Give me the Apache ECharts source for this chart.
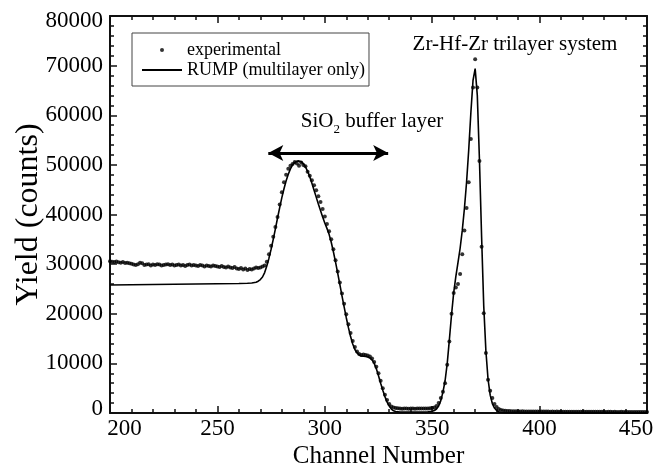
<!DOCTYPE html>
<html>
<head>
<meta charset="utf-8">
<script src="https://cdn.jsdelivr.net/npm/echarts@6/dist/echarts.min.js"></script>
<style>
html,body{margin:0;padding:0;background:#fff;}
#chart{width:663px;height:466px;}
</style>
</head>
<body>
<div id="chart"></div>
<script>
// ---- data ----
const expStartChannel = 200;
const expYield = [
  30600, 30500, 30450, 30550, 30400, 30300, 30450, 30250, 30300, 30200,
  30100, 29900, 29800, 30000, 30300, 30200, 29800, 29900, 30000, 29700,
  29900, 29800, 30000, 29900, 29700, 29800, 29900, 30000, 29800, 29900,
  29700, 29800, 29900, 29700, 29800, 29600, 29800, 29900, 29700, 29800,
  29700, 29600, 29800, 29700, 29500, 29700, 29600, 29500, 29700, 29600,
  29500, 29400, 29600, 29400, 29300, 29500, 29300, 29200, 29400, 29100,
  29000, 29200, 28900, 29100, 28800, 29000, 28900, 29100, 29300, 29200,
  29300, 29500, 29700, 30500, 32000, 33700, 35500, 37500, 39500, 42000,
  44500, 46500, 48000, 49200, 49800, 50200, 50600, 50300, 49800, 50500,
  50000, 49700, 48600, 47800, 46900, 45900, 44900, 43700, 42500, 41100,
  39600, 38100, 36600, 35000, 33000, 30800, 28500, 26300, 24100, 22000,
  19900, 17900, 16100, 14500, 13300, 12400, 11900, 11700, 11800, 11700,
  11600, 11400, 11000, 10300, 9300, 8000, 6500, 5000, 3700, 2600,
  1800, 1300, 1100, 1000, 950, 900, 880, 920, 900, 870,
  900, 910, 880, 900, 890, 900, 920, 900, 930, 950,
  1000, 1100, 1400, 2000, 3000, 4300, 6000, 9700, 14400, 20000,
  24200, 25300, 26000, 28000, 32000, 36800, 41300, 46500, 55200, 65600,
  71300, 65600, 50800, 33500, 20100, 12100, 6700, 4500, 3000, 1800,
  1200, 800, 600, 500, 450, 400, 380, 360, 350, 340,
  330, 320, 330, 310, 320, 300, 310, 300, 290, 300,
  290, 280, 300, 280, 290, 270, 280, 270, 280, 260,
  270, 260, 270, 250, 260, 260, 250, 260, 240, 250,
  250, 240, 250, 240, 230, 240, 240, 230, 240, 230,
  230, 220, 230, 230, 220, 230, 220, 220, 230, 210,
  220, 220, 210, 220, 210, 210, 220, 200, 210, 210,
  200
];
const rumpChannels = [
  200, 210, 220, 230, 240, 250, 260, 264, 266, 268,
  269, 270, 271, 272, 273, 274, 275, 276, 277, 278,
  279, 280, 281, 282, 283, 284, 285, 286, 287, 288,
  289, 290, 291, 292, 293, 294, 295, 296, 297, 298,
  299, 300, 301, 302, 303, 304, 305, 306, 307, 308,
  309, 310, 311, 312, 313, 314, 315, 316, 317, 318,
  319, 320, 321, 322, 323, 324, 325, 326, 327, 328,
  329, 330, 331, 332, 333, 334, 335, 340, 345, 348,
  350, 351, 352, 353, 354, 355, 356, 357, 358, 359,
  360, 361, 362, 363, 364, 365, 366, 367, 368, 369,
  370, 371, 372, 373, 374, 375, 376, 377, 378, 379,
  380, 381, 382, 384, 390, 400, 450
];
const rumpYield = [
  25800, 25850, 25900, 25950, 26000, 26050, 26100, 26150, 26200, 26350,
  26550, 26900, 27400, 28300, 29600, 31200, 33000, 35000, 37100, 39300,
  41400, 43400, 45200, 46800, 48100, 49200, 50000, 50500, 50750, 50800,
  50650, 50250, 49600, 48700, 47600, 46300, 44900, 43500, 42100, 40800,
  39500, 38300, 37200, 36000, 34400, 32500, 30400, 28200, 25900, 23600,
  21400, 19200, 17200, 15400, 13900, 12800, 12100, 11700, 11500, 11450,
  11400, 11300, 11100, 10700, 10000, 8900, 7500, 6000, 4600, 3300,
  2200, 1400, 800, 450, 300, 250, 200, 200, 200, 250,
  350, 500, 800, 1400, 2500, 4200, 6500, 10000, 14800, 19800,
  24200, 27500, 30300, 33200, 36800, 41200, 46500, 53000, 60500, 67000,
  69400, 64000, 51000, 35500, 21500, 12500, 6800, 3600, 1900, 1000,
  500, 250, 100, 0, 0, 0, 0
];
const arrowChannels = [273.7, 329.5];
const arrowYield = 52400;
const seriesNames = ['experimental', 'RUMP (multilayer only)'];
const annotationTexts = ['Zr-Hf-Zr trilayer system', 'SiO', '2', ' buffer layer'];

// ---- build ----
const FONT = 'Liberation Serif';
const expData = expYield.map((v, i) => [expStartChannel + i, v]);
const rumpData = rumpChannels.map((c, i) => [c, rumpYield[i]]);

const tickStyle = { show: true, inside: true, length: 7, lineStyle: { color: '#111', width: 1.5 } };
const minorStyle = { show: true, splitNumber: 5, length: 4, lineStyle: { color: '#111', width: 1.5 } };
const lineStyle = { show: true, onZero: false, lineStyle: { color: '#111', width: 2 } };
const lblBase = { fontFamily: FONT, fontSize: 23, color: '#000' };

function xAxisBase(pos, showLabel) {
  return {
    type: 'value', position: pos, min: 200, max: 450, interval: 50,
    axisLine: lineStyle, axisTick: tickStyle, minorTick: minorStyle,
    splitLine: { show: false }, minorSplitLine: { show: false },
    axisLabel: showLabel ? {
      margin: 4, ...lblBase,
      formatter: v => v === 200 ? '{l|200}' : (v === 450 ? '{r|450}' : String(v)),
      rich: { l: { ...lblBase, padding: [0, 0, 0, 29] }, r: { ...lblBase, padding: [0, 22, 0, 0] } }
    } : { show: false }
  };
}
function yAxisBase(pos, showLabel) {
  return {
    type: 'value', position: pos, min: 0, max: 80000, interval: 10000,
    axisLine: lineStyle, axisTick: tickStyle, minorTick: minorStyle,
    splitLine: { show: false }, minorSplitLine: { show: false },
    axisLabel: showLabel ? {
      margin: 7, ...lblBase,
      formatter: v => v === 0 ? '{lo|0}' : (v === 80000 ? '{hi|80000}' : String(v)),
      rich: { lo: { ...lblBase, padding: [0, 0, 9, 0] }, hi: { ...lblBase, padding: [9, 0, 0, 0] } }
    } : { show: false }
  };
}

const xMain = xAxisBase('bottom', true);
xMain.name = 'Channel Number';
xMain.nameLocation = 'middle';
xMain.nameGap = 31;
xMain.nameMoveOverlap = false;
xMain.nameTextStyle = { fontFamily: FONT, fontSize: 25, color: '#000' };
const yMain = yAxisBase('left', true);
yMain.name = 'Yield (counts)';
yMain.nameLocation = 'middle';
yMain.nameGap = 65;
yMain.nameMoveOverlap = false;
yMain.nameTextStyle = { fontFamily: FONT, fontSize: 32, color: '#000' };

const chart = echarts.init(document.getElementById('chart'), null, { renderer: 'canvas' });
chart.setOption({
  animation: false,
  backgroundColor: '#fff',
  grid: { left: 110, right: 16, top: 16, bottom: 53, containLabel: false, outerBoundsMode: 'none' },
  xAxis: [xMain, xAxisBase('top', false)],
  yAxis: [yMain, yAxisBase('right', false)],
  legend: {
    left: 132, top: 33, orient: 'vertical',
    padding: [7, 4, 6, 9], itemGap: 0, itemWidth: 40, itemHeight: 4,
    borderColor: '#444', borderWidth: 1,
    textStyle: { fontFamily: FONT, fontSize: 18, color: '#000', lineHeight: 20 },
    data: [
      { name: seriesNames[0], icon: 'circle' },
      { name: seriesNames[1], itemStyle: { color: 'rgba(0,0,0,0)', borderWidth: 0 } }
    ]
  },
  series: [
    {
      name: seriesNames[0], type: 'scatter', data: expData,
      symbol: 'circle', symbolSize: 4, itemStyle: { color: '#000' },
      xAxisIndex: 0, yAxisIndex: 0, z: 3
    },
    {
      name: seriesNames[1], type: 'line', data: rumpData,
      symbol: 'none', showSymbol: false, smooth: false,
      lineStyle: { color: '#000', width: 1.6 }, itemStyle: { color: '#000' },
      xAxisIndex: 0, yAxisIndex: 0, z: 4,
      markLine: {
        silent: true, symbol: ['arrow', 'arrow'], symbolSize: [12, 15],
        lineStyle: { color: '#000', width: 3, type: 'solid' },
        label: { show: false },
        data: [[{ coord: [arrowChannels[0], arrowYield] }, { coord: [arrowChannels[1], arrowYield] }]]
      }
    }
  ],
  graphic: [
    {
      type: 'text', x: 515, y: 44,
      style: { text: annotationTexts[0], fontFamily: FONT, fontSize: 21, fill: '#000', align: 'center', verticalAlign: 'middle' }
    },
    {
      type: 'text', x: 372, y: 121,
      style: {
        text: '{a|' + annotationTexts[1] + '}{s|' + annotationTexts[2] + '}{a|' + annotationTexts[3] + '}',
        align: 'center', verticalAlign: 'middle',
        rich: {
          a: { fontFamily: FONT, fontSize: 21, fill: '#000', lineHeight: 30 },
          s: { fontFamily: FONT, fontSize: 13, fill: '#000', lineHeight: 13, verticalAlign: 'bottom' }
        }
      }
    }
  ]
});
</script>
</body>
</html>
